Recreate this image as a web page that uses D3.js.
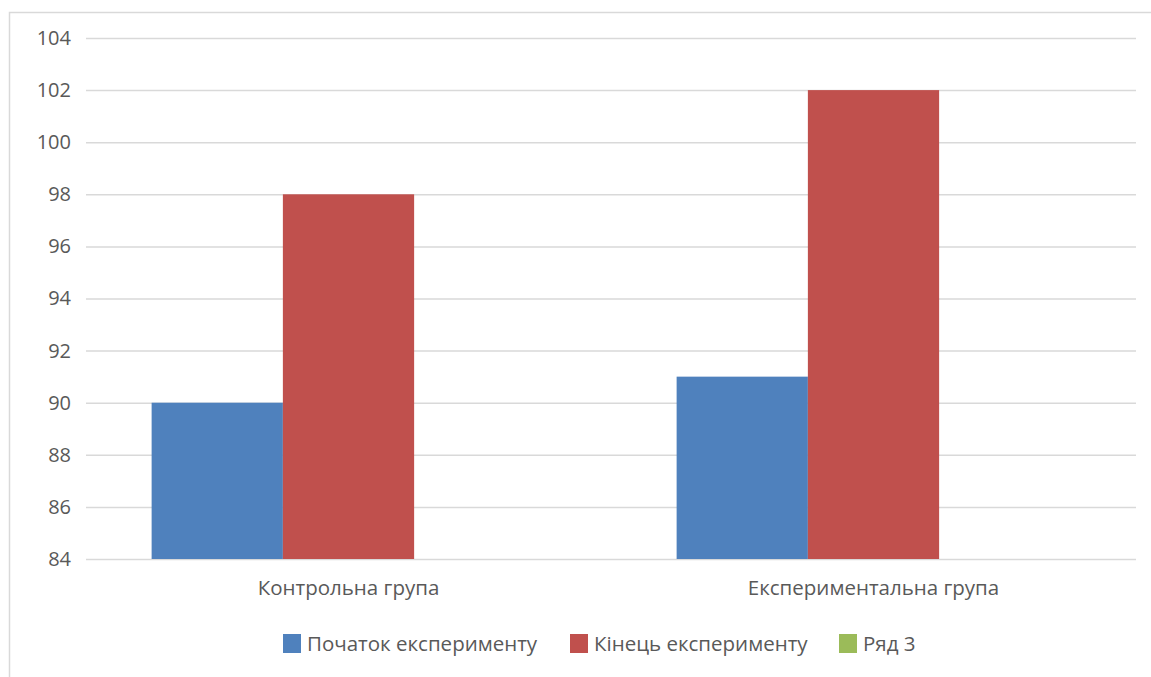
<!DOCTYPE html>
<html><head><meta charset="utf-8">
<script src="https://cdn.jsdelivr.net/npm/d3@7"></script>
<style>
html,body{margin:0;padding:0;background:#fff;}
svg text{font-family:"Open Sans",sans-serif;fill:#595959;}
</style></head>
<body>
<svg id="c" width="1151" height="677"></svg>
<script>
const categories = ["Контрольна група", "Експериментальна група"];
const seriesNames = ["Початок експерименту", "Кінець експерименту", "Ряд 3"];
const seriesColors = ["#4F81BD", "#C0504D", "#9BBB59"];
const startValues = [90, 91];
const endValues = [98, 102];
const row3Values = [null, null];
const yTicks = [84, 86, 88, 90, 92, 94, 96, 98, 100, 102, 104];

const series = [startValues, endValues, row3Values];
const svg = d3.select("#c");
const W = 1151, H = 677;
const plot = {left: 86, right: 1136, top: 38, bottom: 559};

// frame
svg.append("path").attr("d", `M9.5,${H} V12.5 H${W}`).attr("fill","none").attr("stroke","#d9d9d9").attr("stroke-width",1.5);

const y = d3.scaleLinear().domain([84,104]).range([plot.bottom, plot.top]);
const x0 = d3.scaleBand().domain(categories).range([plot.left, plot.right]).paddingInner(0.25).paddingOuter(0.125);
const x1 = d3.scaleBand().domain(seriesNames).range([0, x0.bandwidth()]);

// grid
const yAxis = d3.axisLeft(y).tickValues(yTicks).tickSize(-(plot.right-plot.left)).tickPadding(15).tickFormat(d3.format("d"));
const ga = svg.append("g").attr("transform",`translate(${plot.left},0)`).call(yAxis);
ga.select(".domain").remove();
ga.selectAll(".tick line").attr("stroke","#d9d9d9").attr("stroke-width",1.5);
ga.selectAll(".tick text").attr("font-size",20).style("fill","#595959");

// bars
const g = svg.append("g");
categories.forEach((cat, ci) => {
  series.forEach((vals, si) => {
    const v = vals[ci];
    if (v == null) return;
    g.append("rect")
      .attr("x", x0(cat) + x1(seriesNames[si]))
      .attr("width", x1.bandwidth())
      .attr("y", y(v))
      .attr("height", y(84) - y(v))
      .attr("fill", seriesColors[si]);
  });
});

// category labels
const xAxis = d3.axisBottom(x0).tickSize(0).tickPadding(21);
const gx = svg.append("g").attr("transform",`translate(0,${plot.bottom})`).call(xAxis);
gx.select(".domain").remove();
gx.selectAll(".tick text").attr("font-size",20.5).style("fill","#595959");

// legend
const legendX = [283, 570, 839];
const lg = svg.append("g");
seriesNames.forEach((n, i) => {
  lg.append("rect").attr("x", legendX[i]).attr("y", 634).attr("width", 18).attr("height", 19).attr("fill", seriesColors[i]);
  lg.append("text").attr("x", legendX[i] + 24).attr("y", 644).attr("dy","0.35em").attr("font-size",20.5).text(n);
});
</script>
</body></html>
